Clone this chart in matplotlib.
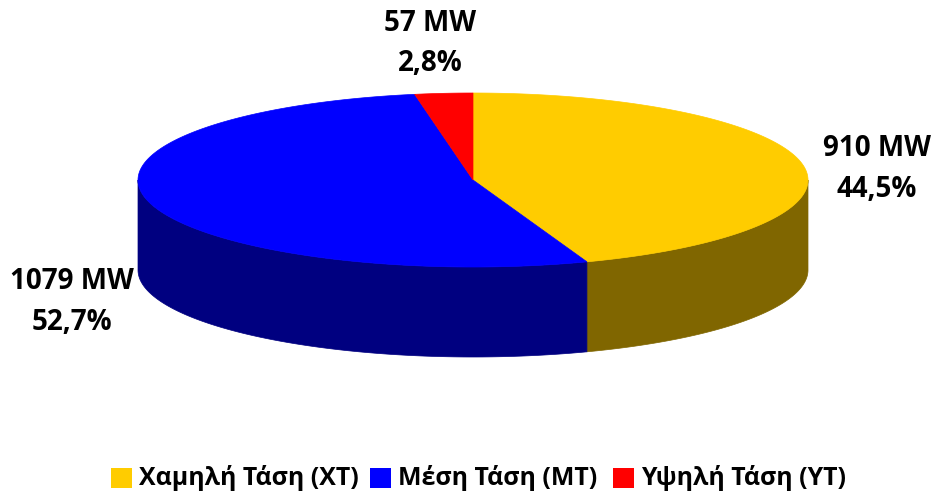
import numpy as np
import matplotlib
matplotlib.use("Agg")
import matplotlib.pyplot as plt
from matplotlib.patches import Rectangle

categories = ["Χαμηλή Τάση (ΧΤ)", "Μέση Τάση (ΜΤ)", "Υψηλή Τάση (ΥΤ)"]
values = [910, 1079, 57]
percent_labels = ["44,5%", "52,7%", "2,8%"]
top_colors = ["#FFCC00", "#0000FF", "#FF0000"]
side_colors = ["#806600", "#000080", "#800000"]

W, H = 935, 497
plt.rcParams["font.family"] = ["Open Sans", "DejaVu Sans"]
plt.rcParams["font.weight"] = "bold"
fig = plt.figure(figsize=(W / 100, H / 100), dpi=100)
ax = fig.add_axes([0, 0, 1, 1])
ax.set_xlim(0, W)
ax.set_ylim(H, 0)
ax.axis("off")

cx, cy, rx, ry, depth = 473, 180, 335, 87, 90
fracs = np.array(values, dtype=float) / sum(values)
edges = np.concatenate([[0], np.cumsum(fracs)]) * 2 * np.pi


def ex(t):
    return cx + rx * np.sin(t)


def ey(t):
    return cy - ry * np.cos(t)


# side walls: only the front half of the rim is visible
for a, b, col in zip(edges[:-1], edges[1:], side_colors):
    lo, hi = max(a, np.pi / 2), min(b, 3 * np.pi / 2)
    if lo < hi:
        t = np.linspace(lo, hi, 200)
        xs = np.concatenate([ex(t), ex(t[::-1])])
        ys = np.concatenate([ey(t), ey(t[::-1]) + depth])
        ax.fill(xs, ys, color=col, lw=0.5, zorder=1)

# top faces
for a, b, col in zip(edges[:-1], edges[1:], top_colors):
    t = np.linspace(a, b, 300)
    xs = np.concatenate([[cx], ex(t)])
    ys = np.concatenate([[cy], ey(t)])
    ax.fill(xs, ys, color=col, lw=0.5, zorder=2)

# data labels
label_pos = [(877, 169), (72, 302), (430, 43.5)]
for v, p, (x, y) in zip(values, percent_labels, label_pos):
    ax.text(x, y, f"{v} MW\n{p}", ha="center", va="center", fontsize=20,
            fontweight="bold", color="black", linespacing=1.54, zorder=3)

# legend
swatch_x = [111, 370, 613]
text_x = [139, 398, 641]
for sx, tx, c, col in zip(swatch_x, text_x, categories, top_colors):
    ax.add_patch(Rectangle((sx, 468), 21, 20, color=col, lw=0, zorder=3))
    ax.text(tx, 478, c, ha="left", va="center", fontsize=17.9, fontweight="bold", color="black")

fig.savefig("out.png", dpi=100, facecolor="white")
